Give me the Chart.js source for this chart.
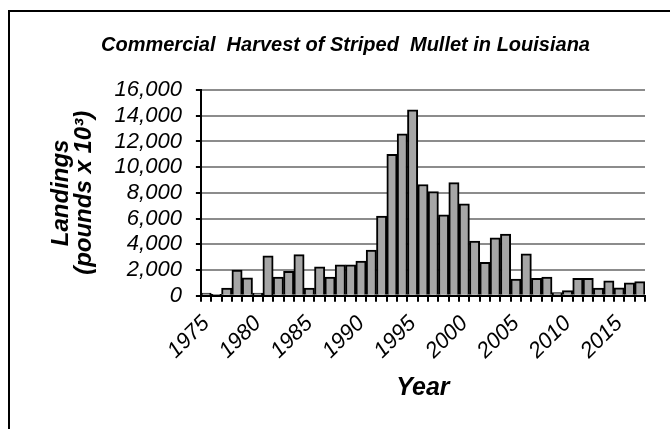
<!DOCTYPE html>
<html lang="en">
<head>
    <meta charset="UTF-8">
    <title>Commercial Harvest of Striped Mullet in Louisiana</title>
    <script src="https://cdn.jsdelivr.net/npm/chart.js"></script>
    <style>
        body {
            margin: 0;
            padding: 0;
            background: #fff;
            overflow: hidden;
        }

        .frame {
            position: absolute;
            left: 8px;
            top: 10px;
            width: 700px;
            height: 500px;
            border: 2px solid #000;
        }

        .chart-box {
            position: absolute;
            left: 0;
            top: 0;
            width: 670px;
            height: 429px;
        }
    </style>
</head>
<body>
    <div class="frame"></div>
    <div class="chart-box">
        <canvas id="mulletChart" width="670" height="429"></canvas>
    </div>
    <script>
// Landings (pounds x 10^3), one value per year 1975-2017
const years = [
    1975, 1976, 1977, 1978, 1979, 1980, 1981, 1982, 1983, 1984,
    1985, 1986, 1987, 1988, 1989, 1990, 1991, 1992, 1993, 1994,
    1995, 1996, 1997, 1998, 1999, 2000, 2001, 2002, 2003, 2004,
    2005, 2006, 2007, 2008, 2009, 2010, 2011, 2012, 2013, 2014,
    2015, 2016, 2017
];
const landings = [
    200, 100, 600, 2000, 1400, 200, 3100, 1450, 1900, 3200,
    600, 2250, 1450, 2400, 2400, 2700, 3550, 6200, 11000, 12600,
    14450, 8650, 8100, 6300, 8800, 7150, 4250, 2600, 4500, 4800,
    1300, 3250, 1350, 1450, 250, 400, 1350, 1350, 600, 1150,
    620, 1000, 1100
];
const yTicks = [0, 2000, 4000, 6000, 8000, 10000, 12000, 14000, 16000];

const ctx = document.getElementById("mulletChart").getContext("2d");

new Chart(ctx, {
    type: "bar",
    data: {
        labels: years,
        datasets: [
            {
                label: "Landings",
                data: landings,
                backgroundColor: "#a6a6a6",
                borderColor: "#000",
                borderWidth: 2,
                categoryPercentage: 1.0,
                barPercentage: 1.0,
            },
        ],
    },
    options: {
        responsive: false,
        animation: false,
        layout: {
            padding: { left: 46, right: 25, top: 0, bottom: 22 },
        },
        plugins: {
            legend: { display: false },
            tooltip: { enabled: false },
            title: {
                display: true,
                text: "Commercial  Harvest of Striped  Mullet in Louisiana",
                color: "#000",
                font: { family: "Liberation Sans", size: 20, style: "italic", weight: "bold" },
                padding: { top: 33, bottom: 33 },
            },
        },
        scales: {
            x: {
                grid: {
                    display: true,
                    offset: true,
                    drawOnChartArea: false,
                    color: "#000",
                    lineWidth: 2,
                    tickLength: 6,
                },
                border: { color: "#000", width: 2 },
                ticks: {
                    autoSkip: false,
                    maxRotation: 45,
                    minRotation: 45,
                    color: "#000",
                    padding: 9,
                    font: { family: "Liberation Sans", size: 22, style: "italic" },
                    callback: function (value, index) {
                        const y = years[index];
                        return y % 5 === 0 ? String(y) : "";
                    },
                },
                title: {
                    display: true,
                    text: "Year",
                    color: "#000",
                    font: { family: "Liberation Sans", size: 25, style: "italic", weight: "bold" },
                    padding: { top: 0 },
                },
            },
            y: {
                min: 0,
                max: 16000,
                afterBuildTicks: function (scale) {
                    scale.ticks = yTicks.map(v => ({ value: v }));
                },
                grid: {
                    color: "#8c8c8c",
                    lineWidth: 2,
                    tickColor: "#000",
                    tickLength: 5,
                },
                border: { color: "#000", width: 2 },
                ticks: {
                    autoSkip: false,
                    color: "#000",
                    padding: 14,
                    font: { family: "Liberation Sans", size: 22, style: "italic", lineHeight: 1 },
                    callback: v => v.toLocaleString("en-US"),
                },
                title: {
                    display: true,
                    text: ["Landings", "(pounds x 10\u00B3)"],
                    color: "#000",
                    font: { family: "Liberation Sans", size: 24, style: "italic", weight: "bold", lineHeight: 0.95 },
                    padding: { top: 4, bottom: 5 },
                },
            },
        },
    },
});
    </script>
</body>
</html>
